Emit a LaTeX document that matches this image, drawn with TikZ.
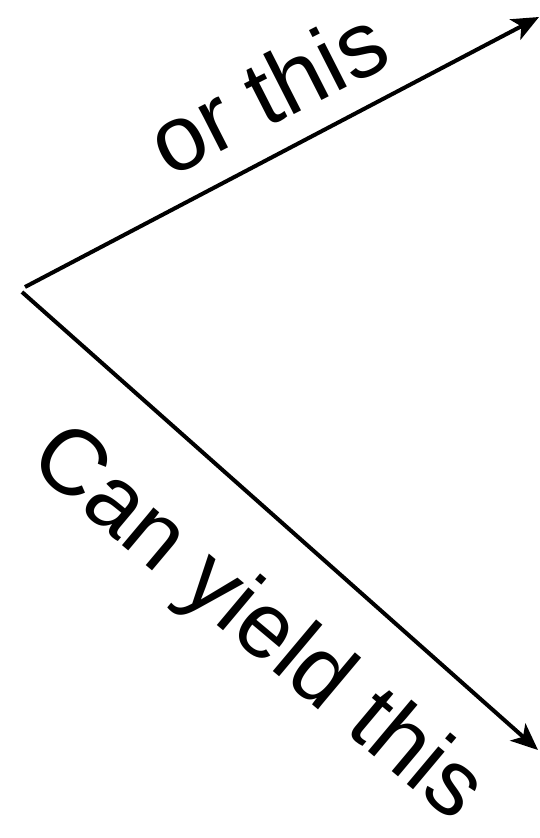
\documentclass[tikz,border=0pt]{standalone}
\usepackage{fontspec}
\setmainfont{Liberation Sans}
\usetikzlibrary{arrows.meta}
\begin{document}
\begin{tikzpicture}[x=1pt,y=-1pt,
  conn/.style={line width=4pt,-{Stealth[length=27pt,width=23pt,inset=7pt]}},
  lbl/.style={inner sep=0pt,font=\fontsize{93}{110}\selectfont}]
\useasboundingbox (0,0) rectangle (540,838);
\coordinate (s1) at (25,287);
\coordinate (s2) at (22,292);
\coordinate (e1) at (539,17);
\coordinate (e2) at (538,750);
\draw[conn] (s1) -- (e1);
\draw[conn] (s2) -- (e2);
\node[lbl,rotate=27] (t1) at (267,91) {or this};
\node[lbl,rotate=-40] (t2) at (256,626) {Can yield this};
\end{tikzpicture}
\end{document}
